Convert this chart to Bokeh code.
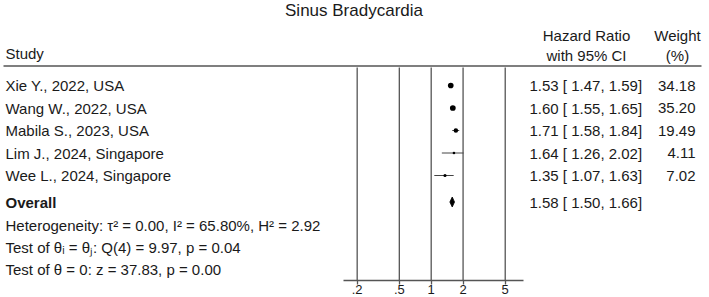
import math
from bokeh.plotting import figure
from bokeh.models import Range1d, LogScale, LogAxis, FixedTicker
from bokeh.core.properties import value
from bokeh.embed import file_html
from bokeh.resources import INLINE

# ---------------- data ----------------
chart_title = "Sinus Bradycardia"
studies = ["Xie Y., 2022, USA", "Wang W., 2022, USA", "Mabila S., 2023, USA",
           "Lim J., 2024, Singapore", "Wee L., 2024, Singapore"]
hr = [1.53, 1.60, 1.71, 1.64, 1.35]
ci_lo = [1.47, 1.55, 1.58, 1.26, 1.07]
ci_hi = [1.59, 1.65, 1.84, 2.02, 1.63]
weights = [34.18, 35.20, 19.49, 4.11, 7.02]
overall_label = "Overall"
overall_hr = 1.58
overall_lo = 1.50
overall_hi = 1.66
stat_lines = ["Heterogeneity: \u03c4\u00b2 = 0.00, I\u00b2 = 65.80%, H\u00b2 = 2.92",
              "Test of \u03b8\u1d62 = \u03b8\u2c7c: Q(4) = 9.97, p = 0.04",
              "Test of \u03b8 = 0: z = 37.83, p = 0.00"]
tick_values = [0.2, 0.5, 1, 2, 5]
tick_labels = [".2", ".5", "1", "2", "5"]

# ---------------- layout ----------------
W, H = 709, 297
X_ONE, PX_DEC = 430.7, 105.9          # pixel of HR=1, pixels per decade
PANEL_L, PANEL_R = 343, 522.5
ROW0, ROW_H = 85, 22.5
Y_OVERALL = 201.5
Y_STATS0, STATS_H = 225, 22
Y_AXIS = 279.5
Y_HLINE = 65.5
Y_VTOP = 67

def px_to_hr(px):
    return 10 ** ((px - X_ONE) / PX_DEC)

FONT = value("Liberation Sans")
TXT = "#1a1a1a"
FS = "15px"
LINE = "#555555"

rows = [ROW0 + i * ROW_H for i in range(len(studies))]
stat_rows = [Y_STATS0 + i * STATS_H for i in range(len(stat_lines))]

p = figure(width=W, height=H, x_range=Range1d(0, W), y_range=Range1d(H, 0),
           x_axis_type=None, y_axis_type=None, toolbar_location=None,
           output_backend="svg", min_border=0, outline_line_color=None,
           background_fill_color="white", border_fill_color="white")
p.extra_x_ranges = {"hr": Range1d(px_to_hr(0), px_to_hr(W))}
p.extra_x_scales = {"hr": LogScale()}

# header rule
p.segment(x0=[3], y0=[Y_HLINE], x1=[701], y1=[Y_HLINE], line_color=LINE, line_width=1.3)

# vertical reference lines at ticks
p.segment(x0=tick_values, x1=tick_values, y0=[Y_VTOP] * len(tick_values),
          y1=[Y_AXIS] * len(tick_values), x_range_name="hr",
          line_color=LINE, line_width=1.3)

# CIs and markers
p.segment(x0=ci_lo, x1=ci_hi, y0=rows, y1=rows, x_range_name="hr",
          line_color="#444444", line_width=1)
p.scatter(x=hr, y=rows, size=[0.8 * math.sqrt(w) + 1 for w in weights], marker="circle",
          fill_color="black", line_color=None, x_range_name="hr")

# overall diamond
p.patch(x=[overall_lo, overall_hr, overall_hi, overall_hr],
        y=[Y_OVERALL, Y_OVERALL - 5, Y_OVERALL, Y_OVERALL + 5],
        x_range_name="hr", fill_color="black", line_color="black", line_width=0.8)

# axis
ax = LogAxis(x_range_name="hr", ticker=FixedTicker(ticks=tick_values),
             fixed_location=Y_AXIS, bounds=(px_to_hr(PANEL_L), px_to_hr(PANEL_R)))
ax.major_label_overrides = dict(zip(tick_values, tick_labels))
ax.axis_line_color = LINE
ax.axis_line_width = 1.3
ax.major_tick_line_color = LINE
ax.major_tick_line_width = 1.3
ax.major_tick_out = 4
ax.major_tick_in = 0
ax.minor_tick_out = 0
ax.minor_tick_in = 0
ax.major_label_standoff = 1
ax.major_label_text_font = "Liberation Sans"
ax.major_label_text_font_size = "13px"
ax.major_label_text_color = TXT
p.add_layout(ax, "below")

# title
p.text(x=[353.5], y=[10], text=[chart_title], text_font=FONT, text_font_size="17px",
       text_color=TXT, text_align="center", text_baseline="middle")

# headers
p.text(x=[5], y=[53], text=["Study"], text_font=FONT, text_font_size=FS,
       text_color=TXT, text_align="left", text_baseline="middle")
p.text(x=[586, 586], y=[35, 54.5], text=["Hazard Ratio", "with 95% CI"], text_font=FONT,
       text_font_size=FS, text_color=TXT, text_align="center", text_baseline="middle")
p.text(x=[677, 677], y=[35, 54.5], text=["Weight", "(%)"], text_font=FONT,
       text_font_size=FS, text_color=TXT, text_align="center", text_baseline="middle")

# study rows
p.text(x=[5] * len(studies), y=rows, text=studies, text_font=FONT, text_font_size=FS,
       text_color=TXT, text_align="left", text_baseline="middle")
hr_txt = [f"{h:.2f} [ {l:.2f}, {u:.2f}]" for h, l, u in zip(hr, ci_lo, ci_hi)]
p.text(x=[529] * len(hr_txt), y=rows, text=hr_txt, text_font=FONT, text_font_size=FS,
       text_color=TXT, text_align="left", text_baseline="middle")
p.text(x=[695] * len(weights), y=rows, text=[f"{w:.2f}" for w in weights], text_font=FONT,
       text_font_size=FS, text_color=TXT, text_align="right", text_baseline="middle")

# overall row
p.text(x=[5], y=[Y_OVERALL], text=[overall_label], text_font=FONT, text_font_size=FS,
       text_font_style="bold", text_color=TXT, text_align="left", text_baseline="middle")
p.text(x=[529], y=[Y_OVERALL], text=[f"{overall_hr:.2f} [ {overall_lo:.2f}, {overall_hi:.2f}]"],
       text_font=FONT, text_font_size=FS, text_color=TXT, text_align="left",
       text_baseline="middle")

# stats
p.text(x=[5] * len(stat_lines), y=stat_rows, text=stat_lines, text_font=FONT,
       text_font_size=FS, text_color=TXT, text_align="left", text_baseline="middle")

open("out.html", "w").write(file_html(p, INLINE))
